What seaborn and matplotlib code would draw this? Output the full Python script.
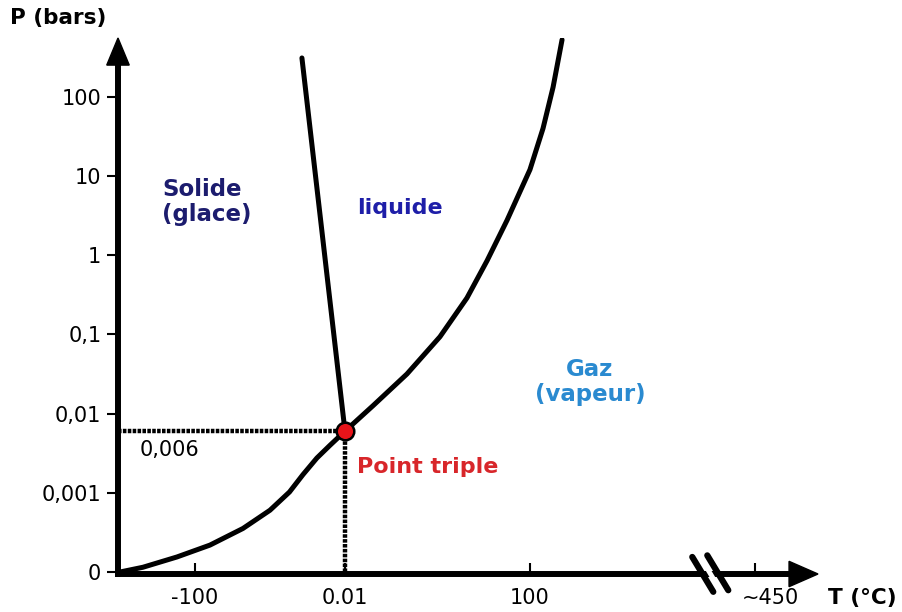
import seaborn as sns
import matplotlib.pyplot as plt
import matplotlib.transforms as mtrans
import numpy as np

sns.set_style("white")
plt.rcParams['font.family'] = ['DejaVu Sans']
plt.rcParams['text.color'] = 'black'
plt.rcParams['xtick.color'] = 'black'
plt.rcParams['ytick.color'] = 'black'

# schematic axes: x in drawing units (0.01 degC at 0), y = pressure decade index (0 -> "0")
x_ticks = [-100, 0, 123.3, 273.3]
x_labels = ['-100', '0.01', '100', '~450']
y_ticks = [0, 1, 2, 3, 4, 5, 6]
y_labels = ['0', '0,001', '0,01', '0,1', '1', '10', '100']

# triple point
triple_x = 0
triple_y = 1.778  # 0,006 bar

# sublimation curve (solid / gas)
subl_x = [-150, -134.7, -112, -90, -68, -50, -37, -28, -18.7, -10, 0]
subl_y = [0, 0.06, 0.19, 0.34, 0.55, 0.78, 1.01, 1.23, 1.44, 1.60, 1.778]

# vaporisation curve (liquid / gas)
vap_x = [0, 18.7, 41.3, 63.3, 81.3, 94.7, 108, 123.3, 132, 138.7, 144.7]
vap_y = [1.778, 2.10, 2.50, 2.97, 3.46, 3.93, 4.44, 5.08, 5.60, 6.12, 6.72]

# fusion curve (solid / liquid)
fus_x = [0, -28.7]
fus_y = [1.778, 6.49]

fig = plt.figure(figsize=(9.03, 6.12), dpi=100)
ax = fig.add_axes([118 / 903, 38 / 612, 700 / 903, 536 / 612])
x0, x1 = -151.3, 315.3
y0, y1 = -0.025, 6.742
ax.set_xlim(x0, x1)
ax.set_ylim(y0, y1)

for s in ['top', 'right']:
    ax.spines[s].set_visible(False)
for s in ['left', 'bottom']:
    ax.spines[s].set_linewidth(4.3)
    ax.spines[s].set_color('black')
ax.spines['left'].set_bounds(y0, 6.45)
ax.spines['bottom'].set_bounds(x0, 300)

# arrow heads
ax.fill([x0 - 7.5, x0, x0 + 7.5], [6.40, y1, 6.40], color='black', clip_on=False, zorder=5)
ax.fill([296, x1, 296], [y0 - 0.16, y0, y0 + 0.16], color='black', clip_on=False, zorder=5)

ax.set_xticks(x_ticks)
ax.set_xticklabels(x_labels)
ax.set_yticks(y_ticks)
ax.set_yticklabels(y_labels)
ax.tick_params(axis='y', direction='out', length=8, width=1.5, pad=4, labelsize=15, left=True)
ax.tick_params(axis='x', direction='in', length=8, width=1.5, pad=10, labelsize=15, bottom=True)
lab = ax.get_xticklabels()[-1]
lab.set_transform(lab.get_transform() + mtrans.ScaledTranslation(0.15, 0, fig.dpi_scale_trans))

# curves
line_kw = dict(sort=False, estimator=None, color='black', lw=3.6, ax=ax,
               solid_joinstyle='round', solid_capstyle='round')
sns.lineplot(x=subl_x, y=subl_y, **line_kw)
sns.lineplot(x=vap_x, y=vap_y, **line_kw)
sns.lineplot(x=fus_x, y=fus_y, **line_kw)

# dotted guides to the triple point
ax.plot([x0, triple_x], [triple_y, triple_y], color='black', lw=3.2, ls=(0, (0.8, 0.3)), zorder=3)
ax.plot([triple_x, triple_x], [0, triple_y], color='black', lw=3.2, ls=(0, (0.8, 0.3)), zorder=3)
ax.scatter([triple_x], [triple_y], s=160, color='#e8141a', edgecolor='black', linewidth=1.8, zorder=6)

# axis break
ax.plot([236.5, 250.5], [0.2, -0.24], color='white', lw=3.5, clip_on=False, zorder=6)
ax.plot([231.5, 245.5], [0.19, -0.25], color='black', lw=4.5, clip_on=False, zorder=7)
ax.plot([241.5, 255.5], [0.21, -0.23], color='black', lw=4.5, clip_on=False, zorder=7)

# region labels
ax.text(-122, 4.67, 'Solide\n(glace)', fontsize=16.5, fontweight='bold', color='#1c1c6e',
        ha='left', va='center', linespacing=1.1)
ax.text(36.7, 4.6, 'liquide', fontsize=16, fontweight='bold', color='#1e1ea8', ha='center', va='center')
ax.text(163.3, 2.40, 'Gaz\n(vapeur)', fontsize=16.5, fontweight='bold', color='#2a8ad0',
        ha='center', va='center', linespacing=1.1)
ax.text(8, 1.33, 'Point triple', fontsize=16, fontweight='bold', color='#d8262a', ha='left', va='center')
ax.text(-136.7, 1.54, '0,006', fontsize=15, color='black', ha='left', va='center')

fig.text(10 / 903, 1 - 18 / 612, 'P (bars)', fontsize=15.5, fontweight='bold', ha='left', va='center')
fig.text(828 / 903, 1 - 598 / 612, 'T (°C)', fontsize=15.5, fontweight='bold', ha='left', va='center')

fig.savefig('out.png', dpi=100, facecolor='white')
